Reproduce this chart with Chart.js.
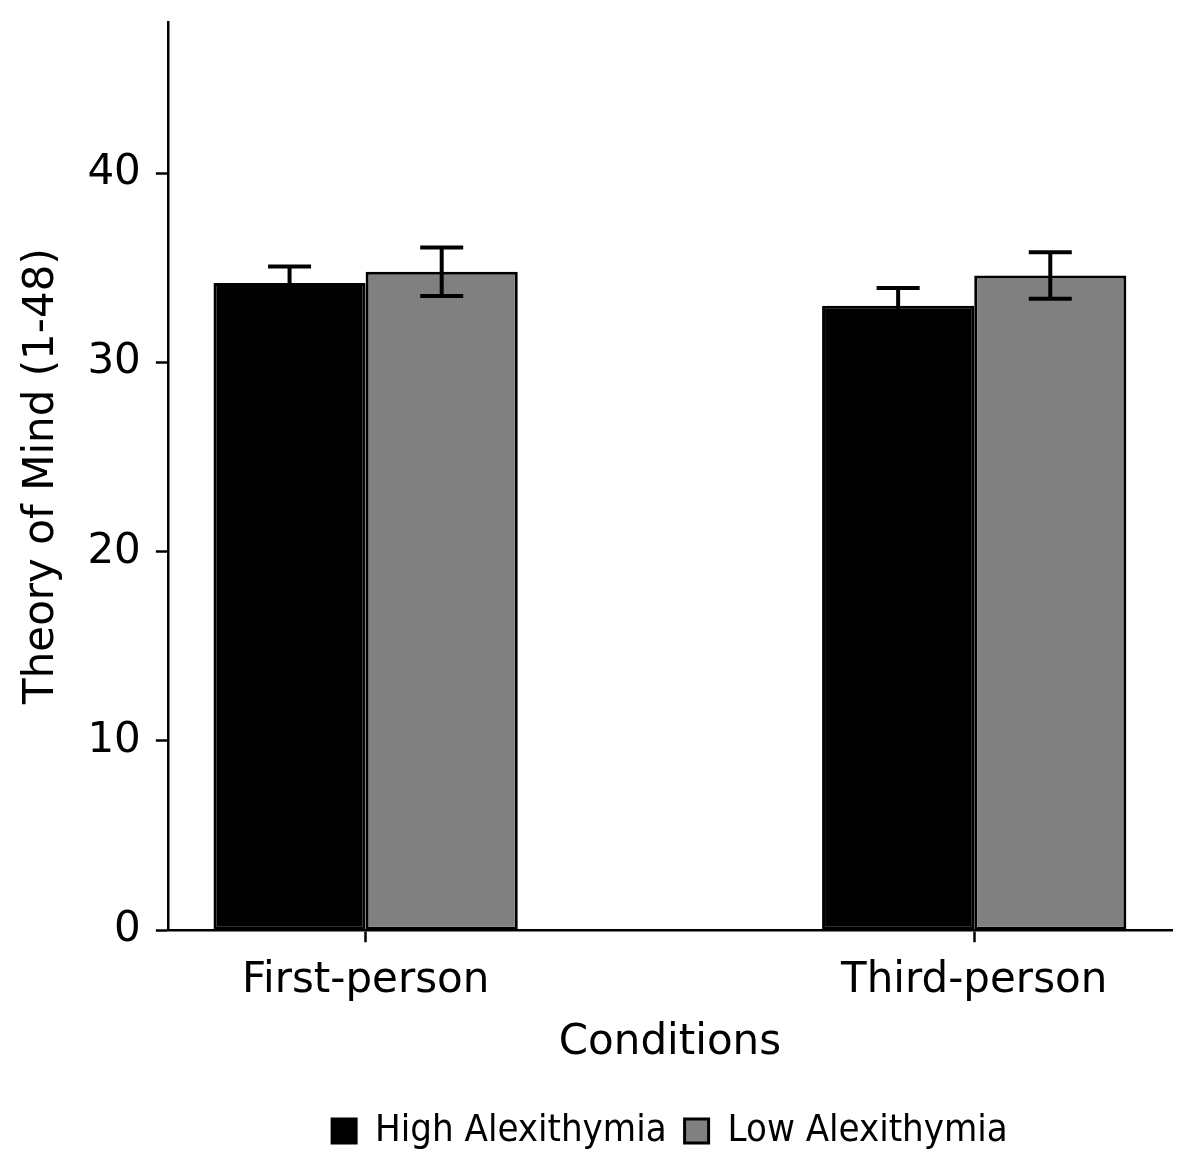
<!DOCTYPE html>
<html>
<head>
<meta charset="utf-8">
<script src="https://cdn.jsdelivr.net/npm/chart.js@4/dist/chart.umd.min.js"></script>
<style>
  html, body { margin: 0; padding: 0; background: #fff; }
  #wrap { width: 1200px; height: 1176px; }
</style>
</head>
<body>
<div id="wrap"><canvas id="mainChart"></canvas></div>
<script>
const conditions = ['First-person', 'Third-person'];
const highMeans = [34.2, 33.0];
const highErrors = [0.88, 0.94];
const lowMeans = [34.8, 34.6];
const lowErrors = [1.28, 1.23];
const yTicks = [0, 10, 20, 30, 40];

const FONT = "'DejaVu Sans', sans-serif";

// whiskers drawn on top of each bar, using the chart's own y scale
const errorBars = {
    id: 'errorBars',
    afterDatasetsDraw(chart, args, opts) {
        const ctx = chart.ctx;
        const y = chart.scales.y;
        ctx.save();
        ctx.strokeStyle = '#000';
        ctx.lineWidth = opts.width;
        chart.data.datasets.forEach((ds, i) => {
            const meta = chart.getDatasetMeta(i);
            meta.data.forEach((bar, j) => {
                const v = ds.data[j].y, e = ds.errors[j];
                const top = y.getPixelForValue(v + e);
                const bot = y.getPixelForValue(v - e);
                const half = opts.cap / 2;
                ctx.beginPath();
                ctx.moveTo(bar.x, top); ctx.lineTo(bar.x, bot);
                ctx.moveTo(bar.x - half, top); ctx.lineTo(bar.x + half, top);
                ctx.moveTo(bar.x - half, bot); ctx.lineTo(bar.x + half, bot);
                ctx.stroke();
            });
        });
        ctx.restore();
    }
};

// drop the extra room chart.js keeps around edge tick labels
const noEdgePadding = (axis) => {
    axis.paddingTop = 0; axis.paddingBottom = 0;
    axis.paddingLeft = 0; axis.paddingRight = 0;
};

new Chart(document.getElementById('mainChart'), {
    type: 'bar',
    data: {
        datasets: [{
            label: 'High Alexithymia',
            data: highMeans.map((v, i) => ({ x: i, y: v })),
            errors: highErrors,
            backgroundColor: '#000000',
            borderColor: '#000000',
            borderWidth: 3,
            borderSkipped: false
        }, {
            label: 'Low Alexithymia',
            data: lowMeans.map((v, i) => ({ x: i, y: v })),
            errors: lowErrors,
            backgroundColor: '#808080',
            borderColor: '#000000',
            borderWidth: 3,
            borderSkipped: false
        }]
    },
    options: {
        responsive: true,
        maintainAspectRatio: false,
        animation: false,
        devicePixelRatio: 1,
        categoryPercentage: 0.5,
        barPercentage: 1.0,
        layout: { padding: { left: 17, right: 28, top: 22, bottom: 16 } },
        scales: {
            x: {
                type: 'linear',
                min: -0.325,
                max: 1.325,
                offset: false,
                afterBuildTicks: (axis) => { axis.ticks = conditions.map((c, i) => ({ value: i })); },
                afterFit: noEdgePadding,
                ticks: {
                    callback: (v) => conditions[v],
                    color: '#000',
                    font: { family: FONT, size: 42 },
                    padding: 14,
                    maxRotation: 0
                },
                grid: { offset: false, drawOnChartArea: false, tickLength: 12, tickColor: '#000', tickWidth: 2.5 },
                border: { display: true, color: '#000', width: 2.5 },
                title: {
                    display: true,
                    text: 'Conditions',
                    color: '#000',
                    font: { family: FONT, size: 42 },
                    padding: { top: -3, bottom: 26 }
                }
            },
            y: {
                min: 0,
                max: 48,
                afterBuildTicks: (axis) => { axis.ticks = yTicks.map(v => ({ value: v })); },
                afterFit: noEdgePadding,
                ticks: {
                    color: '#000',
                    font: { family: FONT, size: 42 },
                    padding: 15
                },
                grid: { drawOnChartArea: false, tickLength: 12, tickColor: '#000', tickWidth: 2.5 },
                border: { display: true, color: '#000', width: 2.5 },
                title: {
                    display: true,
                    text: 'Theory of Mind (1-48)',
                    color: '#000',
                    font: { family: FONT, size: 42 },
                    padding: { top: 0, bottom: 5 }
                }
            }
        },
        plugins: {
            legend: {
                position: 'bottom',
                fullSize: false,
                labels: {
                    color: '#000',
                    font: { family: "'DejaVu Sans Condensed', 'DejaVu Sans', sans-serif", size: 38 },
                    boxWidth: 24,
                    boxHeight: 24,
                    padding: 18
                }
            },
            tooltip: { enabled: false },
            errorBars: { width: 4, cap: 43 }
        }
    },
    plugins: [errorBars]
});
</script>
</body>
</html>
